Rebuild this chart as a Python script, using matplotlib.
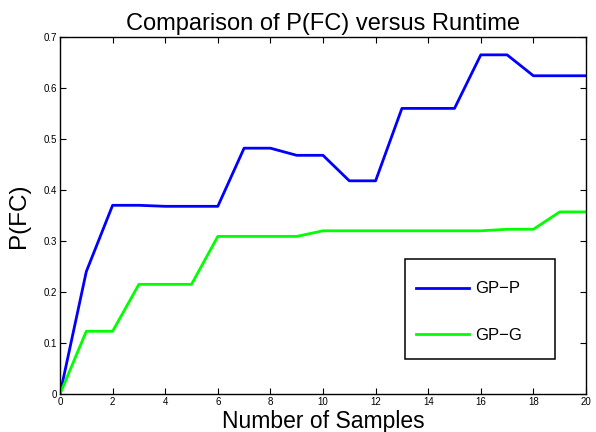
import matplotlib
matplotlib.use("Agg")
import matplotlib.pyplot as plt
from matplotlib.patches import Rectangle

plt.rcParams['font.family'] = ['Liberation Sans', 'DejaVu Sans']

samples = list(range(21))
gp_p = [0, 0.24, 0.37, 0.37, 0.368, 0.368, 0.368, 0.482, 0.482, 0.468, 0.468,
        0.418, 0.418, 0.56, 0.56, 0.56, 0.665, 0.665, 0.624, 0.624, 0.624]
gp_g = [0, 0.123, 0.123, 0.215, 0.215, 0.215, 0.309, 0.309, 0.309, 0.309, 0.32,
        0.32, 0.32, 0.32, 0.32, 0.32, 0.32, 0.323, 0.323, 0.357, 0.357]
x_ticks = list(range(0, 21, 2))
y_ticks = [0, 0.1, 0.2, 0.3, 0.4, 0.5, 0.6, 0.7]
y_tick_labels = ['0', '0.1', '0.2', '0.3', '0.4', '0.5', '0.6', '0.7']

fig = plt.figure(figsize=(5.96, 4.32), dpi=100)
ax = fig.add_axes([60 / 596, 1 - 394 / 432, 526 / 596, 357 / 432])

ax.plot(samples, gp_p, color=(0, 0, 1), linewidth=2, label='GP\u2212P')
ax.plot(samples, gp_g, color=(0, 1, 0), linewidth=2, label='GP\u2212G')

ax.set_xlim(0, 20)
ax.set_ylim(0, 0.7)
ax.set_xticks(x_ticks)
ax.set_yticks(y_ticks)
ax.set_yticklabels(y_tick_labels)
ax.tick_params(direction='in', top=True, right=True, labelsize=7, length=4, pad=2)
for s in ax.spines.values():
    s.set_linewidth(1.0)

ax.set_title('Comparison of P(FC) versus Runtime', fontsize=17, pad=5)
ax.set_xlabel('Number of Samples', fontsize=16.5, labelpad=2)
ax.set_ylabel('P(FC)', fontsize=17.5, labelpad=10)

# matlab-style legend: separate box so the entries can sit where they do in the reference
box = Rectangle((0.656, 0.098), 0.285, 0.28, transform=ax.transAxes,
                facecolor='white', edgecolor='black', linewidth=1.1, zorder=4)
ax.add_patch(box)
leg = ax.legend(loc='center left', bbox_to_anchor=(0.677, 0.229),
                fontsize=12, labelspacing=1.9, handlelength=3.2,
                handletextpad=0.36, borderaxespad=0, borderpad=0,
                frameon=False)
leg.set_zorder(5)

fig.savefig('out.png', dpi=100)
